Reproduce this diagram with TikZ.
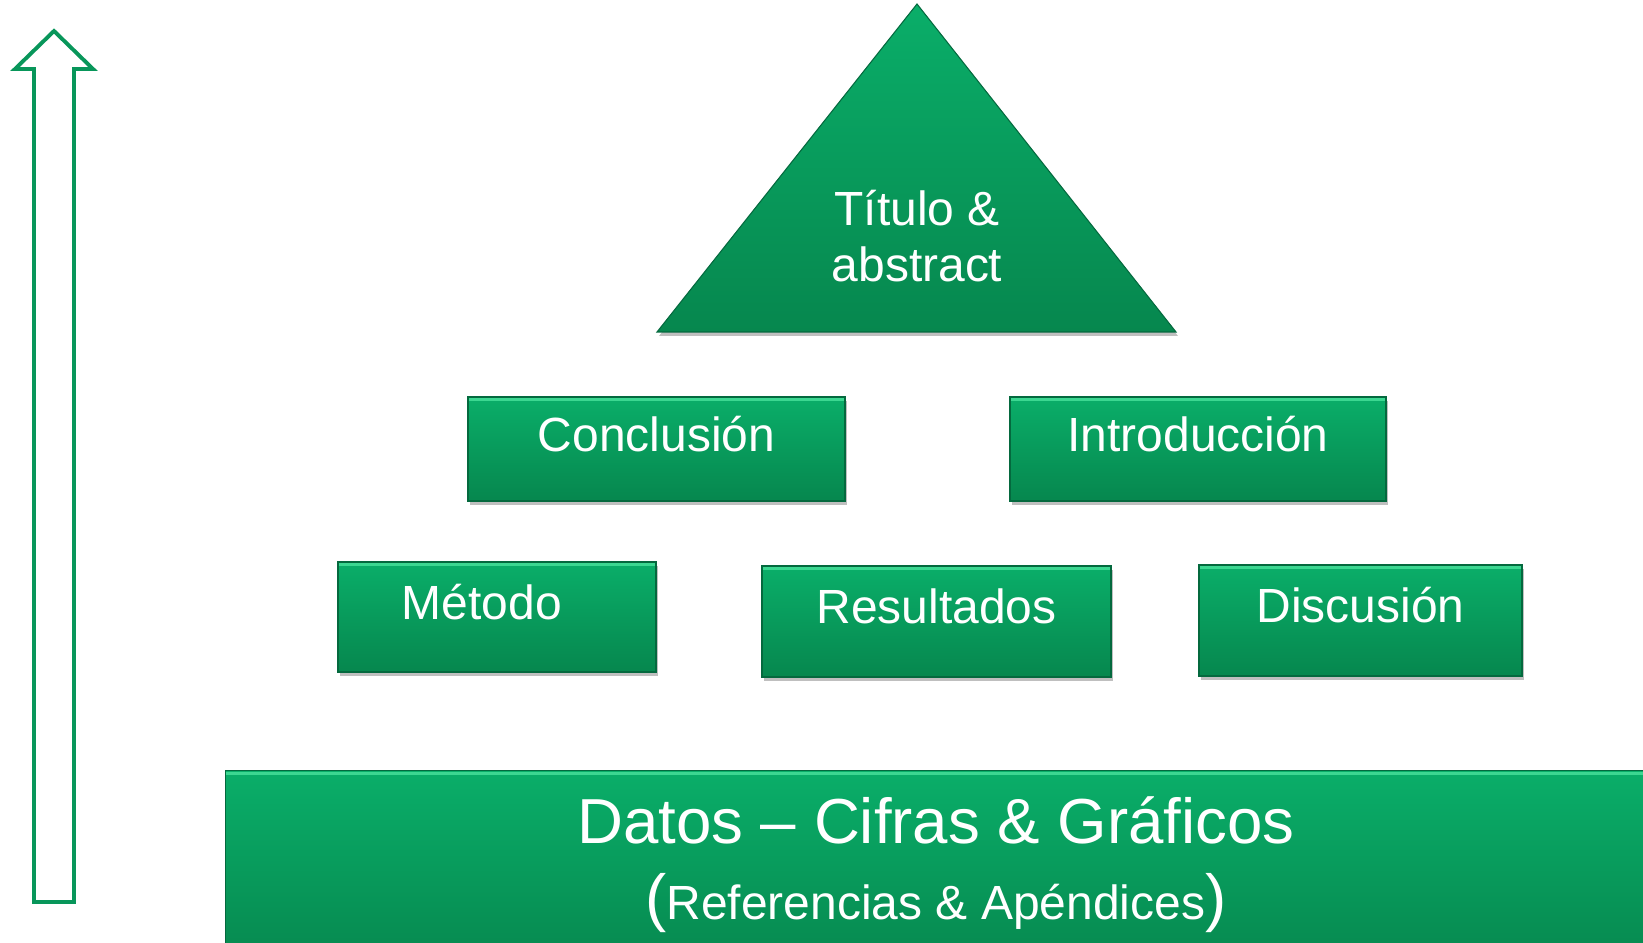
\documentclass[tikz,border=0pt]{standalone}
\usepackage{fontspec}
\setmainfont{Liberation Sans}
\usetikzlibrary{shadows}
\definecolor{verdeA}{RGB}{10,174,105}
\definecolor{verdeB}{RGB}{6,135,78}
\definecolor{verdeL}{RGB}{60,215,145}
\definecolor{verdeD}{RGB}{4,105,62}
\definecolor{flecha}{RGB}{8,150,90}

\begin{document}
\begin{tikzpicture}[
  blok/.style={rectangle, top color=verdeA, bottom color=verdeB, draw=verdeD, line width=0.6pt,
    drop shadow={shadow xshift=0.04cm, shadow yshift=-0.08cm, opacity=0.5},
    path picture={\draw[verdeL, line width=1.6pt]
      ([yshift=-1.5pt]path picture bounding box.north west) -- ([yshift=-1.5pt]path picture bounding box.north east);},
    text=white, font=\fontsize{27.3}{32}\selectfont,
    text height=0.72em, text depth=0.45em, inner sep=0pt},
  rotulo/.style={text=white, inner sep=0pt}
]
\useasboundingbox (0,0) rectangle (32.86,-18.86);

% flecha hueca
\draw[flecha, line width=2.2pt] (1.08,-0.62) -- (1.86,-1.38) -- (1.48,-1.38) -- (1.48,-18.04)
  -- (0.68,-18.04) -- (0.68,-1.38) -- (0.30,-1.38) -- cycle;

% triangulo
\coordinate (top) at (18.34,-0.08);
\coordinate (bl) at (13.14,-6.64);
\coordinate (br) at (23.52,-6.64);
\shade[top color=verdeA, bottom color=verdeB, draw=verdeD, line width=0.6pt,
  drop shadow={shadow xshift=0.04cm, shadow yshift=-0.08cm, opacity=0.5}]
  (top) -- (br) -- (bl) -- cycle;
\node[rotulo, align=center, font=\fontsize{27.3}{31.6}\selectfont](titulo) at (18.34,-4.72) {Título \&\\abstract};

% cajas
\node[blok, minimum width=7.54cm, minimum height=2.08cm](conclusion) at (13.13,-8.98) {Conclusión};
\node[blok, minimum width=7.52cm, minimum height=2.08cm](intro) at (23.96,-8.98) {Introducción};
\node[blok, minimum width=6.36cm, minimum height=2.20cm](metodo) at (9.94,-12.34) {Método\hspace*{0.6cm}};
\node[blok, minimum width=6.98cm, minimum height=2.22cm](resultados) at (18.73,-12.43) {Resultados};
\node[blok, minimum width=6.46cm, minimum height=2.22cm](discusion) at (27.21,-12.41) {Discusión};

% base
\node[blok, minimum width=28.5cm, minimum height=4cm, anchor=north west](base) at (4.5,-15.4) {};
\node[rotulo, font=\fontsize{36.2}{40}\selectfont](datos) at (18.72,-16.40) {Datos – Cifras \& Gráficos};
\node[rotulo, font=\fontsize{27.3}{32}\selectfont, anchor=base](refs) at (18.72,-18.38)
  {{\fontsize{36.2}{40}\selectfont(}Referencias \& Apéndices{\fontsize{36.2}{40}\selectfont)}};
\end{tikzpicture}
\end{document}
